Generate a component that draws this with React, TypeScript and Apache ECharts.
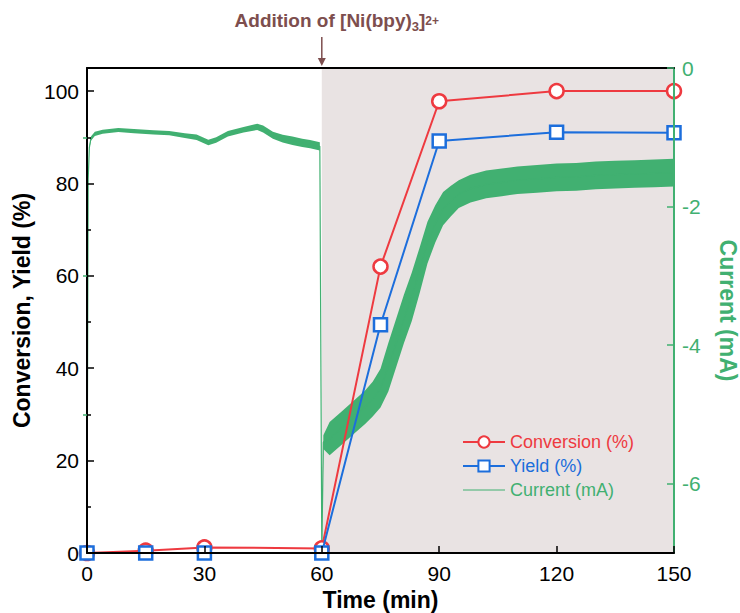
import React, { useEffect, useRef } from "react";
import * as echarts from "echarts";

const FONT = 'Arial, "Liberation Sans", Helvetica, sans-serif';
const RED = "#EE3A40";
const BLUE = "#1C6EDC";
const GREEN = "#41B071";
const BROWN = "#7D4E4E";
const SHADE = "#E9E3E3";

// Sampled times (min) for conversion / yield
const sampleTimes = [0, 15, 30, 60, 75, 90, 120, 150];
const conversion = [0, 0.5, 1.2, 1.0, 62, 97.8, 100, 100];
const yieldPct = [0, 0, 0, 0, 49.4, 89.2, 91.1, 91.0];

// Current trace (mA): centre and half-width of the noisy band
const currentTime = [
  0, 0.3, 0.6, 1, 2, 4, 8, 12, 17, 21, 25, 28, 31, 33, 36, 40, 43.5, 45, 47.5, 50,
  52.5, 55, 57, 59.5, 60, 60.4, 62, 65, 68, 71, 73, 75, 77, 79, 81, 83, 85, 87, 89,
  91, 93, 95, 98, 102, 106, 110, 115, 120, 125, 130, 135, 140, 145, 150,
];
const currentMid = [
  -7.0, -1.6, -1.15, -1.02, -0.95, -0.92, -0.895, -0.91, -0.93, -0.94, -0.975, -1.0,
  -1.075, -1.04, -0.95, -0.89, -0.85, -0.88, -0.97, -1.02, -1.05, -1.08, -1.1, -1.13,
  -7.0, -5.4, -5.35, -5.2, -5.05, -4.9, -4.78, -4.62, -4.32, -3.97, -3.62, -3.3, -2.92,
  -2.52, -2.25, -2.03, -1.92, -1.82, -1.74, -1.68, -1.65, -1.62, -1.6, -1.58, -1.57,
  -1.55, -1.54, -1.53, -1.52, -1.51,
];
const currentSpread = [
  0, 0, 0.02, 0.03, 0.03, 0.03, 0.03, 0.03, 0.03, 0.03, 0.035, 0.04, 0.04, 0.04, 0.04,
  0.04, 0.045, 0.05, 0.05, 0.055, 0.06, 0.06, 0.06, 0.06, 0, 0.1, 0.24, 0.24, 0.24,
  0.24, 0.25, 0.28, 0.35, 0.35, 0.35, 0.35, 0.33, 0.3, 0.27, 0.24, 0.22, 0.2, 0.2, 0.2,
  0.2, 0.2, 0.2, 0.2, 0.2, 0.2, 0.2, 0.2, 0.2, 0.2,
];

const xTicks = [0, 30, 60, 90, 120, 150];
const leftMajor = [0, 20, 40, 60, 80, 100];
const leftMinor = [10, 30, 50, 70, 90];
const rightMajor = [0, -2, -4, -6];
const rightMinor = [-1, -3, -5];

export default function App() {
  const ref = useRef<HTMLDivElement>(null);

  useEffect(() => {
    const chart = echarts.init(ref.current!, null, { renderer: "svg" });

    const mid = currentTime.map((t, i) => [t, currentMid[i]]);
    const conv = sampleTimes.map((t, i) => [t, conversion[i]]);
    const yld = sampleTimes.map((t, i) => [t, yieldPct[i]]);

    const nameStyle = (color: string) => ({
      color,
      fontSize: 23,
      fontWeight: "bold",
      fontFamily: FONT,
    });

    chart.setOption({
      animation: false,
      backgroundColor: "#fff",
      grid: {
        left: 87,
        right: 66,
        top: 68,
        bottom: 60,
        containLabel: false,
        outerBoundsMode: "none",
      },
      legend: {
        orient: "vertical",
        left: 457,
        top: 428,
        itemWidth: 42,
        itemHeight: 14,
        itemGap: 6,
        textStyle: { fontSize: 18, fontFamily: FONT },
        data: [
          { name: "Conversion (%)", textStyle: { color: RED } },
          { name: "Yield (%)", textStyle: { color: BLUE } },
          {
            name: "Current (mA)",
            textStyle: { color: GREEN },
            itemStyle: { opacity: 0 },
            lineStyle: { width: 1 },
          },
        ],
      },
      xAxis: [
        {
          type: "value",
          min: 0,
          max: 150,
          interval: 30,
          position: "bottom",
          z: 10,
          axisLine: { show: true, onZero: false, lineStyle: { color: "#000", width: 2 } },
          axisTick: { show: true, inside: true, length: 7, lineStyle: { color: "#000", width: 1.5 }, customValues: xTicks },
          axisLabel: { color: "#000", fontSize: 21, margin: 10, fontFamily: FONT, customValues: xTicks },
          splitLine: { show: false },
          name: "Time (min)",
          nameLocation: "middle",
          nameGap: 34,
          nameTextStyle: nameStyle("#000"),
        },
        {
          type: "value",
          min: 0,
          max: 150,
          position: "top",
          z: 10,
          axisLine: { show: true, onZero: false, lineStyle: { color: "#000", width: 2 } },
          axisTick: { show: false },
          axisLabel: { show: false },
          splitLine: { show: false },
        },
      ],
      yAxis: [
        {
          type: "value",
          min: 0,
          max: 105,
          position: "left",
          z: 10,
          axisLine: { show: true, onZero: false, lineStyle: { color: "#000", width: 2 } },
          axisTick: { show: true, inside: true, length: 7, lineStyle: { color: "#000", width: 1.5 }, customValues: leftMajor },
          axisLabel: { color: "#000", fontSize: 21, margin: 8, fontFamily: FONT, customValues: leftMajor },
          splitLine: { show: false },
          name: "Conversion, Yield (%)",
          nameLocation: "middle",
          nameGap: 48,
          nameRotate: 90,
          nameTextStyle: nameStyle("#000"),
        },
        {
          type: "value",
          min: -7,
          max: 0,
          position: "right",
          z: 10,
          axisLine: { show: true, onZero: false, lineStyle: { color: GREEN, width: 2 } },
          axisTick: { show: true, inside: true, length: 7, lineStyle: { color: GREEN, width: 1.5 }, customValues: rightMajor },
          axisLabel: { color: GREEN, fontSize: 21, margin: 8, fontFamily: FONT, customValues: rightMajor },
          splitLine: { show: false },
          name: "Current (mA)",
          nameLocation: "middle",
          nameGap: 42,
          nameRotate: -90,
          nameTextStyle: nameStyle(GREEN),
        },
        {
          type: "value",
          min: 0,
          max: 105,
          position: "left",
          z: 10,
          axisLine: { show: false },
          axisTick: { show: true, inside: true, length: 4, lineStyle: { color: "#000", width: 1.5 }, customValues: leftMinor },
          axisLabel: { show: false },
          splitLine: { show: false },
        },
        {
          type: "value",
          min: -7,
          max: 0,
          position: "right",
          z: 10,
          axisLine: { show: false },
          axisTick: { show: true, inside: true, length: 4, lineStyle: { color: GREEN, width: 1.5 }, customValues: rightMinor },
          axisLabel: { show: false },
          splitLine: { show: false },
        },
      ],
      series: [
        {
          name: "band",
          type: "custom",
          xAxisIndex: 0,
          yAxisIndex: 1,
          data: mid,
          silent: true,
          z: 2,
          renderItem: (params: any, api: any) => {
            if (params.dataIndex !== 0) return null;
            const upper = currentTime.map((t, i) =>
              api.coord([t, currentMid[i] + currentSpread[i]])
            );
            const lower = currentTime
              .map((t, i) => api.coord([t, currentMid[i] - currentSpread[i]]))
              .reverse();
            return {
              type: "polygon",
              shape: { points: upper.concat(lower) },
              style: { fill: GREEN },
            };
          },
          markArea: {
            silent: true,
            itemStyle: { color: SHADE },
            data: [[{ xAxis: 60 }, { xAxis: 150 }]],
          },
        },
        {
          name: "Current (mA)",
          type: "line",
          xAxisIndex: 0,
          yAxisIndex: 1,
          data: mid,
          symbol: "none",
          lineStyle: { color: GREEN, width: 1.2 },
          itemStyle: { color: GREEN },
          z: 2,
        },
        {
          name: "Conversion (%)",
          type: "line",
          xAxisIndex: 0,
          yAxisIndex: 0,
          data: conv,
          symbol: "circle",
          symbolSize: 14,
          showAllSymbol: true,
          lineStyle: { color: RED, width: 2 },
          itemStyle: { color: "#fff", borderColor: RED, borderWidth: 2.5 },
          z: 3,
        },
        {
          name: "Yield (%)",
          type: "line",
          xAxisIndex: 0,
          yAxisIndex: 0,
          data: yld,
          symbol: "rect",
          symbolSize: 13,
          showAllSymbol: true,
          lineStyle: { color: BLUE, width: 2 },
          itemStyle: { color: "#fff", borderColor: BLUE, borderWidth: 2.5 },
          z: 4,
        },
      ],
    });

    const p = chart.convertToPixel({ xAxisIndex: 0, yAxisIndex: 0 }, [60, 105]) as number[];
    const ax = p[0];
    const topY = p[1];
    chart.setOption({
      graphic: [
        {
          type: "line",
          shape: { x1: ax, y1: 37, x2: ax, y2: topY - 8 },
          style: { stroke: BROWN, lineWidth: 1.5 },
          z: 20,
        },
        {
          type: "polygon",
          shape: { points: [[ax - 4, topY - 10], [ax + 4, topY - 10], [ax, topY - 2]] },
          style: { fill: BROWN },
          z: 20,
        },
        {
          type: "text",
          x: ax + 15,
          y: 20,
          z: 20,
          style: {
            text: "{m|Addition of [Ni(bpy)}{sub|3}{m|]}{sup|2+}",
            align: "center",
            verticalAlign: "middle",
            fill: BROWN,
            rich: {
              m: { fontSize: 19, fontWeight: "bold", fontFamily: FONT, fill: BROWN, color: BROWN, lineHeight: 26 },
              sub: { fontSize: 13, fontWeight: "bold", fontFamily: FONT, fill: BROWN, color: BROWN, lineHeight: 14, verticalAlign: "bottom" },
              sup: { fontSize: 12, fontWeight: "bold", fontFamily: FONT, fill: BROWN, color: BROWN, lineHeight: 14, verticalAlign: "top", padding: [8, 0, 0, 0] },
            },
          },
        },
      ],
    });

    return () => chart.dispose();
  }, []);

  return (
    <div
      ref={ref}
      style={{ position: "fixed", left: 0, top: 0, width: 740, height: 613 }}
    />
  );
}
